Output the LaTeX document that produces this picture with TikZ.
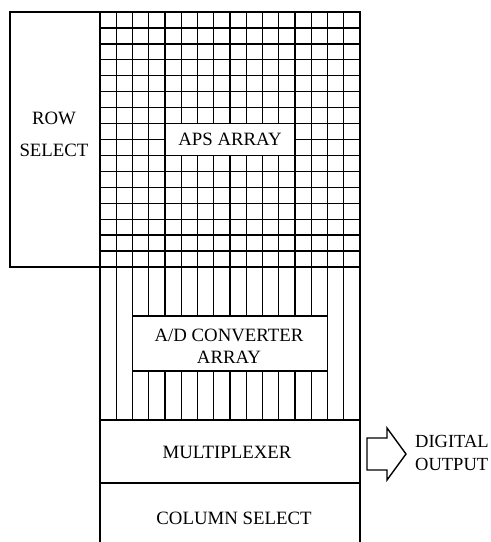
\documentclass[tikz,border=0pt]{standalone}
\usepackage{fontspec}
\setmainfont{Liberation Serif}
\begin{document}
\begin{tikzpicture}[x=1pt,y=-1pt,
  outer/.style={line width=1.9pt},
  gridln/.style={line width=1.3pt},
  txt/.style={font=\fontsize{18.8}{22}\selectfont, inner sep=0pt, align=center},
  lblbox/.style={draw, gridln, fill=white, inner sep=0pt, align=center}]
\useasboundingbox (0,0) rectangle (491,542);
% APS grid
\foreach \i in {1,...,15} \draw[gridln] ({100+\i*16.25},12) -- ({100+\i*16.25},267);
\foreach \j in {1,...,15} \draw[gridln] (100,{12+\j*15.9375}) -- (360,{12+\j*15.9375});
\node[lblbox, minimum width=130pt, minimum height=31.9pt] (aps) at (230,139.5) {};
\node[txt] (apst) at (230,139.5) {APS ARRAY};
% ADC columns
\foreach \i in {1,...,15} \draw[gridln] ({100+\i*16.25},267) -- ({100+\i*16.25},420);
\node[lblbox, minimum width=195pt, minimum height=55pt] (adc) at (230,343.5) {};
\node[txt] (adct) at (229,346) {A/D CONVERTER\\[0pt]ARRAY};
% Row select
\draw[outer] (10,12) rectangle (100,267);
\node[txt] (row) at (54,134) {ROW\\[10pt]SELECT};
% outer frame of array
\draw[outer] (100,12) -- (360,12) -- (360,542);
\draw[outer] (100,12) -- (100,542);
\draw[outer] (100,267) -- (360,267);
\draw[outer] (100,420) -- (360,420);
\draw[outer] (100,483) -- (360,483);
\node[txt] (mux) at (227,452) {MULTIPLEXER};
\node[txt] (col) at (234,518) {COLUMN SELECT};
% output arrow
\draw[line width=1.4pt, line join=miter] (367,438) -- (387,438) -- (387,428) -- (406,454) -- (387,480) -- (387,470) -- (367,470) -- cycle;
\node[txt, anchor=west, align=left, font=\fontsize{18.5}{23}\selectfont] (dout) at (415,453) {DIGITAL\\OUTPUT};
\end{tikzpicture}
\end{document}
